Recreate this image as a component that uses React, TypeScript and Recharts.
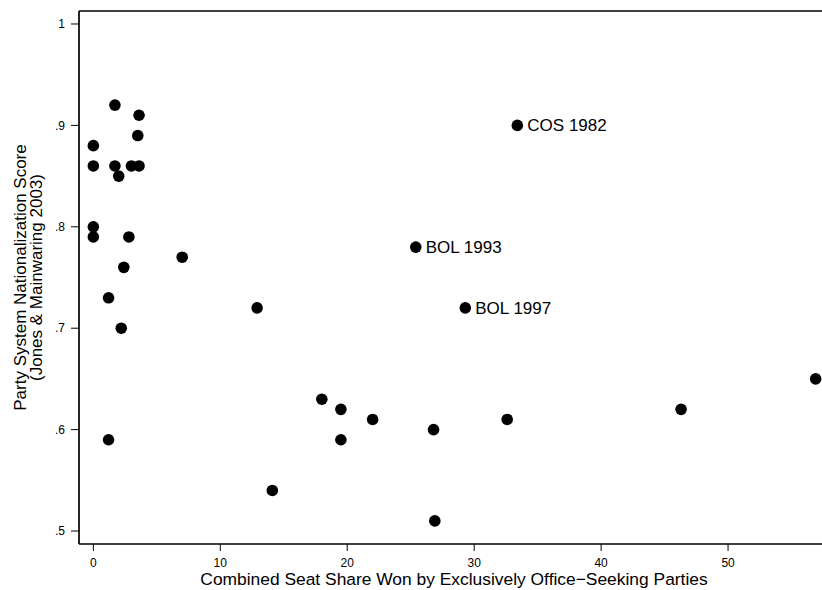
import React from "react";
import {
  ScatterChart,
  Scatter,
  XAxis,
  YAxis,
  ReferenceLine,
  Label,
} from "recharts";

// 各点の値
const seatShare = [
  0, 0, 0, 0, 1.7, 3.6, 3.5, 1.7, 2.0, 3.0, 3.6, 2.8, 2.4, 7.0, 1.2, 2.2, 1.2,
  12.9, 14.1, 18.0, 19.5, 19.5, 22.0, 26.8, 26.9, 25.4, 29.3, 33.4, 32.6, 46.3,
  56.9,
];
const nationalization = [
  0.88, 0.86, 0.8, 0.79, 0.92, 0.91, 0.89, 0.86, 0.85, 0.86, 0.86, 0.79, 0.76,
  0.77, 0.73, 0.7, 0.59, 0.72, 0.54, 0.63, 0.62, 0.59, 0.61, 0.6, 0.51, 0.78,
  0.72, 0.9, 0.61, 0.62, 0.65,
];
const pointLabels: Record<number, string> = {
  25: "BOL 1993",
  26: "BOL 1997",
  27: "COS 1982",
};

const xTicks = [0, 10, 20, 30, 40, 50];
const yTicks = [0.5, 0.6, 0.7, 0.8, 0.9, 1];
const X_DOMAIN: [number, number] = [-1.13, 57.4];
const Y_DOMAIN: [number, number] = [0.4872, 1.0128];

const FONT = "'Liberation Sans', Arial, Helvetica, sans-serif";

const data = seatShare.map((x, i) => ({
  x,
  y: nationalization[i],
  label: pointLabels[i] ?? "",
}));

const fmtY = (v: number) => (v === 1 ? "1" : "." + Math.round(v * 10));

const Dot = (props: any) => {
  const { cx, cy, payload } = props;
  return (
    <g>
      <circle cx={cx} cy={cy} r={5.8} fill="#000" />
      {payload.label && (
        <text
          x={cx + 10}
          y={cy + 6}
          fontSize={17}
          fontFamily={FONT}
          fill="#000"
        >
          {payload.label}
        </text>
      )}
    </g>
  );
};

const YTitle = (props: any) => {
  const vb = props.viewBox || { y: 11, height: 533 };
  const cy = vb.y + vb.height / 2;
  return (
    <g fontFamily={FONT} fontSize={17} fill="#000">
      <text transform={`translate(26, ${cy}) rotate(-90)`} textAnchor="middle">
        Party System Nationalization Score
      </text>
      <text transform={`translate(42, ${cy}) rotate(-90)`} textAnchor="middle">
        (Jones &amp; Mainwaring 2003)
      </text>
    </g>
  );
};

const XTitle = (props: any) => {
  const vb = props.viewBox || { x: 79, width: 743 };
  return (
    <text
      x={vb.x + vb.width / 2 + 3.5}
      y={585}
      textAnchor="middle"
      fontFamily={FONT}
      fontSize={17.4}
      fill="#000"
    >
      Combined Seat Share Won by Exclusively Office−Seeking Parties
    </text>
  );
};

export default function App() {
  return (
    <div style={{ position: "absolute", left: 0, top: 0, background: "#fff" }}>
      <ScatterChart
        width={822}
        height={590}
        margin={{ top: 11, right: 0, bottom: 0, left: 0 }}
      >
        <XAxis
          type="number"
          dataKey="x"
          domain={X_DOMAIN}
          ticks={xTicks}
          allowDataOverflow
          height={46}
          tickSize={7}
          tickMargin={7}
          axisLine={{ stroke: "#000", strokeWidth: 1.7 }}
          tickLine={{ stroke: "#000", strokeWidth: 1 }}
          tick={{ fill: "#000", fontSize: 12, fontFamily: FONT }}
        >
          <Label content={<XTitle />} />
        </XAxis>
        <YAxis
          type="number"
          dataKey="y"
          domain={Y_DOMAIN}
          ticks={yTicks}
          allowDataOverflow
          width={79}
          tickSize={8}
          tickMargin={6}
          tickFormatter={fmtY}
          axisLine={{ stroke: "#000", strokeWidth: 1.7 }}
          tickLine={{ stroke: "#000", strokeWidth: 1 }}
          tick={{ fill: "#000", fontSize: 12, fontFamily: FONT }}
        >
          <Label content={<YTitle />} />
        </YAxis>
        <ReferenceLine y={Y_DOMAIN[1]} stroke="#000" strokeWidth={1.5} />
        <Scatter data={data} shape={<Dot />} isAnimationActive={false} />
      </ScatterChart>
    </div>
  );
}
